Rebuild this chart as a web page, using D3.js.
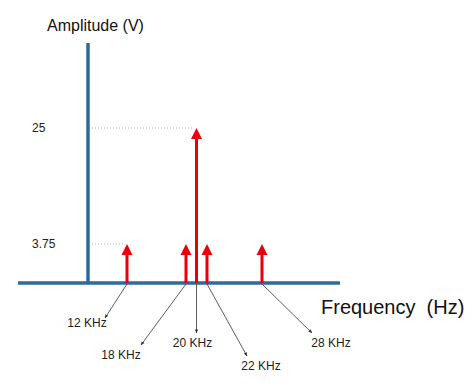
<!DOCTYPE html>
<html>
<head>
<meta charset="utf-8">
<script src="https://cdn.jsdelivr.net/npm/d3@7"></script>
<style>
  body { margin: 0; background: #fff; }
  svg { display: block; font-family: "Liberation Sans", Arial, sans-serif; }
</style>
</head>
<body>
<div id="chart"></div>
<script>
// spectrum lines
const freqs = [12, 18, 20, 22, 28]
const amps = [3.75, 3.75, 25, 3.75, 3.75]
const freqLabels = ["12 KHz", "18 KHz", "20 KHz", "22 KHz", "28 KHz"]
const ampTicks = [25, 3.75]
const ampTickLabels = ["25", "3.75"]

// callout placement (leader end + label, relative to foot of each line)
const calloutEnd = [[-22, 35], [-45, 62], [0, 50], [40, 73], [50, 50]]
const calloutText = [[-40, 44], [-65, 76], [-4, 64], [54, 87], [69, 64]]

const width = 474, height = 390
const axis_color = "#2c6b9b", line_color = "#e8000b", lead_color = "#333"

const svg = d3.select("#chart").append("svg")
    .attr("width", width).attr("height", height)

// schematic (not to scale) axes, hence the piecewise scales
const x = d3.scaleLinear().domain([12, 18, 22, 28]).range([127, 186, 207, 262])
const y = d3.scaleLinear().domain([0, 3.75, 25]).range([283, 244, 128])
const x0 = 88

const defs = svg.append("defs")
defs.append("marker")
    .attr("id", "lead")
    .attr("viewBox", "0 0 10 10")
    .attr("refX", 9).attr("refY", 5)
    .attr("markerWidth", 5).attr("markerHeight", 5)
    .attr("orient", "auto")
    .append("path")
    .attr("d", "M0,1 L10,5 L0,9 Z")
    .attr("fill", lead_color)

// guide dotted lines
svg.append("g").selectAll("line")
    .data(ampTicks)
    .join("line")
    .attr("x1", x0 + 4)
    .attr("x2", d => x(freqs[amps.indexOf(d)]) - 3)
    .attr("y1", d => y(d)).attr("y2", d => y(d))
    .attr("stroke", "#b0b0b0")
    .attr("stroke-width", 1)
    .attr("stroke-dasharray", "1,2")

svg.append("g").selectAll("text")
    .data(ampTicks)
    .join("text")
    .attr("x", 32)
    .attr("y", d => y(d) + 4)
    .attr("font-size", "12px")
    .attr("fill", "#222")
    .text((d, i) => ampTickLabels[i])

// axes
svg.append("line")
    .attr("x1", x0).attr("x2", x0)
    .attr("y1", 43).attr("y2", y(0))
    .attr("stroke", axis_color).attr("stroke-width", 3.5)
svg.append("line")
    .attr("x1", 18).attr("x2", 340)
    .attr("y1", y(0)).attr("y2", y(0))
    .attr("stroke", axis_color).attr("stroke-width", 3.5)

svg.append("text")
    .attr("x", 47).attr("y", 31)
    .attr("font-size", "16px").attr("fill", "#111")
    .text("Amplitude (V)")

svg.append("text")
    .attr("x", 321).attr("y", 314)
    .attr("font-size", "20px").attr("fill", "#111")
    .style("white-space", "pre")
    .text("Frequency  (Hz)")

// leader lines + labels
const callouts = svg.append("g").selectAll("g")
    .data(freqs)
    .join("g")

callouts.append("line")
    .attr("x1", d => x(d)).attr("y1", y(0) + 1)
    .attr("x2", (d, i) => x(d) + calloutEnd[i][0])
    .attr("y2", (d, i) => y(0) + calloutEnd[i][1])
    .attr("stroke", lead_color).attr("stroke-width", 0.8)
    .attr("marker-end", "url(#lead)")

callouts.append("text")
    .attr("x", (d, i) => x(d) + calloutText[i][0])
    .attr("y", (d, i) => y(0) + calloutText[i][1])
    .attr("text-anchor", "middle")
    .attr("font-size", "12px").attr("fill", "#222")
    .text((d, i) => freqLabels[i])

// spectral lines with arrow heads
const spikes = svg.append("g").selectAll("g")
    .data(freqs)
    .join("g")

spikes.append("line")
    .attr("x1", d => x(d)).attr("x2", d => x(d))
    .attr("y1", y(0))
    .attr("y2", (d, i) => y(amps[i]) + 8)
    .attr("stroke", line_color).attr("stroke-width", 3)

spikes.append("path")
    .attr("d", (d, i) => {
        const cx = x(d), ty = y(amps[i])
        return `M${cx},${ty} L${cx + 5.5},${ty + 11} L${cx - 5.5},${ty + 11} Z`
    })
    .attr("fill", line_color)
</script>
</body>
</html>
